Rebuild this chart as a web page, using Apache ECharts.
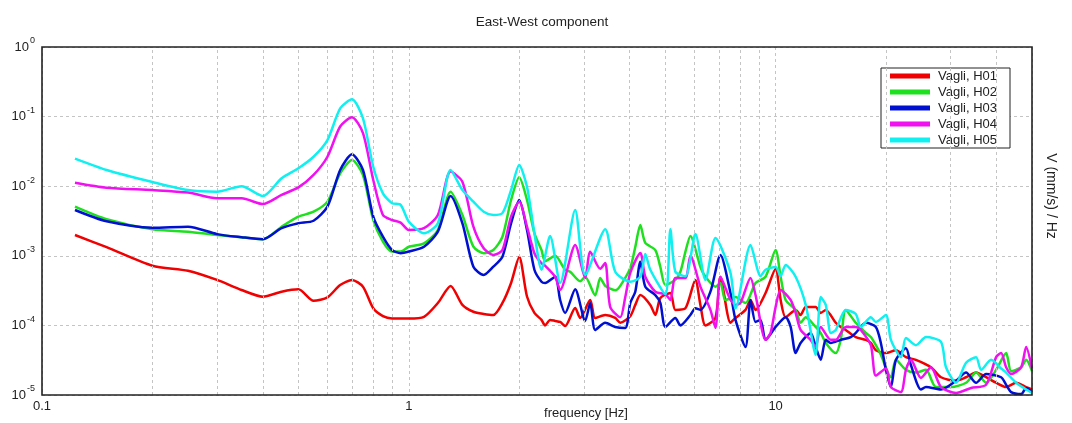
<!DOCTYPE html>
<html lang="en">
<head>
<meta charset="UTF-8">
<title>East-West component</title>
<script src="https://cdn.jsdelivr.net/npm/echarts@6/dist/echarts.min.js"></script>
</head>
<body style="margin:0;background:#fff">
<div id="main" style="width:1072px;height:423px"></div>
<script>
// frequencies (Hz) of the smooth low-frequency part, shared by every station
var lowFreq = [0.123, 0.15, 0.2, 0.25, 0.3, 0.35, 0.4, 0.45, 0.5, 0.55, 0.6, 0.65, 0.7, 0.75, 0.8, 0.85,
    0.9, 0.95, 1.0, 1.1, 1.2, 1.3, 1.4, 1.5, 1.6, 1.7, 1.8, 1.9, 2.0, 2.1, 2.2, 2.3];

// V (mm/s)/Hz
var h01Low = [1.99e-3, 1.33e-3, 7.2e-4, 6.1e-4, 4.5e-4, 3.23e-4, 2.59e-4, 3.05e-4, 3.3e-4, 2.26e-4, 2.53e-4, 3.81e-4,
    4.5e-4, 3.6e-4, 1.76e-4, 1.36e-4, 1.26e-4, 1.26e-4, 1.26e-4, 1.33e-4, 2.1e-4, 3.69e-4, 1.97e-4, 1.57e-4,
    1.46e-4, 1.41e-4, 2.1e-4, 4.07e-4, 9.6e-4, 2.6e-4, 1.51e-4, 1.2e-4];
var h01High = [[2.353, 1.0e-4], [2.428, 1.2e-4], [2.506, 1.16e-4], [2.586, 1.12e-4], [2.668, 9.8e-5], [2.842, 1.78e-4],
    [2.932, 1.28e-4], [3.123, 2.32e-4], [3.222, 1.28e-4], [3.432, 1.41e-4], [3.654, 1.28e-4], [3.771, 1.09e-4],
    [4.016, 1.36e-4], [4.144, 1.97e-4], [4.277, 2.73e-4], [4.554, 1.97e-4], [4.7, 1.41e-4], [4.85, 2.48e-4],
    [5.165, 2.92e-4], [5.33, 1.67e-4], [5.676, 1.76e-4], [6.044, 4.5e-4], [6.237, 1.97e-4], [6.437, 1.0e-4],
    [6.855, 1.28e-4], [7.074, 4.96e-4], [7.533, 1.09e-4], [7.774, 1.28e-4], [8.278, 1.67e-4], [8.543, 2.32e-4],
    [8.816, 1.67e-4], [9.388, 2.92e-4], [10.0, 6.5e-4], [10.32, 2.32e-4], [10.65, 1.31e-4], [11.34, 1.67e-4],
    [11.7, 1.41e-4], [12.08, 1.84e-4], [12.86, 1.84e-4], [13.27, 1.51e-4], [13.7, 1.67e-4], [14.59, 1.09e-4],
    [15.05, 9.5e-5], [15.53, 8.6e-5], [16.54, 6.8e-5], [17.62, 6.2e-5], [18.18, 5.6e-5], [18.76, 4.4e-5],
    [19.98, 4.0e-5], [21.28, 4.4e-5], [22.66, 3.5e-5], [24.13, 3.2e-5], [26.52, 2.5e-5], [28.24, 1.8e-5],
    [31.04, 1.6e-5], [33.05, 1.8e-5], [35.2, 2.1e-5], [37.48, 1.8e-5], [39.92, 1.5e-5], [42.51, 1.3e-5],
    [45.27, 1.5e-5], [48.21, 1.3e-5], [50, 1.2e-5]];

var h02Low = [5.08e-3, 3.35e-3, 2.4e-3, 2.22e-3, 1.99e-3, 1.85e-3, 1.73e-3, 2.62e-3, 3.65e-3, 4.3e-3, 6.0e-3, 1.53e-2,
    2.38e-2, 1.45e-2, 3.27e-3, 1.6e-3, 1.15e-3, 1.15e-3, 1.35e-3, 1.51e-3, 2.35e-3, 8.34e-3, 3.86e-3, 1.35e-3,
    1.09e-3, 1.21e-3, 1.88e-3, 6.33e-3, 1.34e-2, 6.33e-3, 2.11e-3, 1.21e-3];
var h02High = [[2.353, 8.4e-4], [2.506, 1.0e-3], [2.668, 6.3e-4], [2.754, 5.9e-4], [2.932, 4.3e-4], [3.026, 5.0e-4],
    [3.222, 2.7e-4], [3.325, 4.8e-4], [3.432, 3.7e-4], [3.654, 3.2e-4], [3.771, 3.7e-4], [4.016, 6.7e-4],
    [4.144, 1.34e-3], [4.277, 2.77e-3], [4.413, 1.53e-3], [4.7, 1.21e-3], [4.85, 6.9e-4], [5.005, 3.8e-4],
    [5.33, 4.5e-4], [5.5, 5.9e-4], [5.676, 1.14e-3], [5.857, 1.93e-3], [6.237, 6.9e-4], [6.437, 5.0e-4],
    [6.855, 3.6e-4], [7.074, 4.07e-4], [7.3, 2.32e-4], [7.774, 2.56e-4], [8.278, 2.1e-4], [8.816, 4.07e-4],
    [9.388, 5.0e-4], [10.0, 1.21e-3], [10.32, 5.0e-4], [10.65, 2.32e-4], [11.34, 1.67e-4], [11.7, 1.09e-4],
    [12.08, 1.31e-4], [12.86, 9.5e-5], [13.27, 7.8e-5], [13.7, 5.6e-5], [14.59, 4.0e-5], [15.05, 6.2e-5],
    [15.53, 1.67e-4], [16.54, 1.09e-4], [17.62, 7.8e-5], [18.18, 6.8e-5], [18.76, 5.2e-5], [19.36, 3.8e-5],
    [20.62, 1.8e-5], [21.28, 3.2e-5], [22.66, 2.3e-5], [24.13, 2.1e-5], [25.7, 2.3e-5], [27.37, 1.3e-5],
    [30.07, 1.3e-5], [33.05, 1.5e-5], [35.2, 2.1e-5], [37.48, 1.5e-5], [39.92, 2.3e-5], [42.51, 4.0e-5],
    [43.87, 2.2e-5], [46.71, 2.5e-5], [48.21, 3.2e-5], [50, 2.2e-5]];

var h03Low = [4.55e-3, 3.13e-3, 2.53e-3, 2.62e-3, 2.05e-3, 1.85e-3, 1.73e-3, 2.49e-3, 2.93e-3, 3.19e-3, 5.08e-3, 1.71e-2,
    2.87e-2, 1.71e-2, 3.65e-3, 1.88e-3, 1.21e-3, 1.09e-3, 1.15e-3, 1.35e-3, 2.22e-3, 7.23e-3, 2.93e-3, 6.97e-4,
    5.3e-4, 6.97e-4, 9.7e-4, 2.93e-3, 6.33e-3, 2.35e-3, 6.3e-4, 4.25e-4];
var h03High = [[2.353, 4.07e-4], [2.506, 5.0e-4], [2.586, 2.32e-4], [2.668, 1.51e-4], [2.842, 3.3e-4], [3.026, 1.16e-4],
    [3.123, 2.1e-4], [3.222, 8.6e-5], [3.432, 1.09e-4], [3.654, 9.5e-5], [3.892, 9.2e-5], [4.016, 2.1e-4],
    [4.144, 3.05e-4], [4.277, 8.2e-4], [4.413, 3.6e-4], [4.7, 2.73e-4], [4.85, 2.1e-4], [5.005, 9.5e-5],
    [5.33, 1.28e-4], [5.5, 1.0e-4], [5.857, 1.41e-4], [6.044, 1.76e-4], [6.237, 1.67e-4], [6.642, 3.05e-4],
    [7.074, 1.03e-3], [7.533, 2.92e-4], [7.774, 1.2e-4], [8.278, 4.9e-5], [8.543, 2.32e-4], [8.816, 1.12e-4],
    [9.098, 1.2e-4], [9.388, 6.2e-5], [10.0, 9.5e-5], [10.65, 1.31e-4], [10.99, 9.5e-5], [11.34, 4.0e-5],
    [11.7, 5.6e-5], [12.46, 7.8e-5], [12.86, 4.9e-5], [13.27, 3.2e-5], [13.7, 6.2e-5], [14.14, 5.6e-5],
    [15.05, 6.2e-5], [16.03, 6.8e-5], [16.54, 7.8e-5], [17.62, 1.09e-4], [18.76, 9.5e-5], [19.36, 5.6e-5],
    [19.98, 2.3e-5], [20.62, 1.3e-5], [21.28, 3.2e-5], [22.66, 4.7e-5], [23.38, 2.7e-5], [24.9, 1.2e-5],
    [25.7, 1.3e-5], [28.24, 1.2e-5], [31.04, 1.6e-5], [33.05, 2.1e-5], [35.2, 1.5e-5], [37.48, 2.0e-5],
    [41.19, 1.8e-5], [42.51, 1.4e-5], [43.87, 1.1e-5], [46.71, 1.03e-5], [48.21, 1.26e-5], [50, 1.1e-5]];

var h04Low = [1.12e-2, 9.5e-3, 8.8e-3, 8.1e-3, 6.7e-3, 6.7e-3, 5.55e-3, 7.5e-3, 9.6e-3, 1.45e-2, 2.65e-2, 7.2e-2,
    9.8e-2, 5.8e-2, 1.23e-2, 3.86e-3, 3.27e-3, 3.0e-3, 2.35e-3, 2.49e-3, 3.86e-3, 1.62e-2, 1.16e-2, 2.62e-3,
    1.28e-3, 1.03e-3, 1.21e-3, 3.65e-3, 6.0e-3, 2.62e-3, 1.09e-3, 7.8e-4];
var h04High = [[2.353, 7.2e-4], [2.506, 5.0e-4], [2.586, 3.23e-4], [2.842, 1.43e-3], [3.026, 4.8e-4], [3.123, 1.14e-3],
    [3.325, 6.5e-4], [3.432, 7.9e-4], [3.541, 1.84e-4], [3.771, 1.31e-4], [3.892, 2.56e-4], [4.016, 5.7e-4],
    [4.277, 1.1e-3], [4.413, 5.0e-4], [4.7, 3.05e-4], [5.005, 2.8e-4], [5.165, 2.32e-4], [5.33, 4.8e-4],
    [5.676, 4.8e-4], [5.857, 1.0e-3], [6.237, 3.6e-4], [6.642, 1.67e-4], [6.855, 9.2e-5], [7.074, 5.0e-4],
    [7.533, 2.32e-4], [7.774, 1.97e-4], [8.022, 2.1e-4], [8.543, 4.8e-4], [8.816, 2.73e-4], [9.388, 6.2e-5],
    [9.688, 7.8e-5], [10.0, 1.84e-4], [10.32, 3.23e-4], [10.99, 2.32e-4], [11.34, 1.51e-4], [11.7, 8.6e-5],
    [12.46, 6.2e-5], [12.86, 4.9e-5], [13.27, 9.5e-5], [14.14, 6.2e-5], [14.59, 6.2e-5], [15.53, 9.5e-5],
    [16.54, 9.5e-5], [17.07, 8.6e-5], [18.18, 5.2e-5], [18.76, 1.9e-5], [19.98, 2.4e-5], [20.62, 1.3e-5],
    [21.96, 1.1e-5], [22.66, 2.3e-5], [23.38, 3.2e-5], [24.9, 1.76e-5], [26.52, 2.5e-5], [28.24, 1.3e-5],
    [31.04, 1.07e-5], [34.11, 1.26e-5], [37.48, 1.4e-5], [39.92, 3.5e-5], [41.19, 4.0e-5], [42.51, 2.5e-5],
    [43.87, 2.0e-5], [46.71, 2.5e-5], [48.21, 4.9e-5], [50, 2.4e-5]];

var h05Low = [2.49e-2, 1.71e-2, 1.15e-2, 8.8e-3, 8.34e-3, 1.0e-2, 7.23e-3, 1.3e-2, 1.81e-2, 2.65e-2, 4.6e-2, 1.31e-1,
    1.77e-1, 9.45e-2, 1.9e-2, 7.9e-3, 5.7e-3, 5.4e-3, 3.1e-3, 2.11e-3, 2.93e-3, 1.71e-2, 8.8e-3, 6.0e-3,
    4.3e-3, 3.86e-3, 4.1e-3, 8.8e-3, 2.02e-2, 9.8e-3, 2.11e-3, 6.3e-4];
var h05High = [[2.428, 1.93e-3], [2.586, 4.07e-4], [2.842, 4.55e-3], [3.026, 5.3e-4], [3.432, 2.41e-3], [3.654, 5.9e-4],
    [4.016, 4.25e-4], [4.277, 5.0e-4], [4.413, 1.06e-3], [4.554, 6.3e-4], [5.005, 2.8e-4], [5.165, 2.41e-3],
    [5.33, 5.9e-4], [5.676, 5.1e-4], [6.044, 2.05e-3], [6.437, 4.5e-4], [6.855, 1.8e-3], [7.533, 5.7e-4],
    [7.774, 1.76e-4], [8.543, 1.43e-3], [9.098, 5.1e-4], [9.388, 6.3e-4], [10.0, 6.9e-4], [10.32, 5.1e-4],
    [10.65, 7.4e-4], [11.34, 5.0e-4], [12.08, 1.97e-4], [12.86, 3.8e-5], [13.27, 2.56e-4], [13.7, 1.97e-4],
    [14.14, 7.8e-5], [14.59, 8.6e-5], [15.53, 1.67e-4], [16.54, 1.46e-4], [17.07, 9.5e-5], [18.18, 1.31e-4],
    [18.76, 1.12e-4], [19.98, 1.41e-4], [20.62, 6.2e-5], [21.96, 3.5e-5], [22.66, 6.6e-5], [24.13, 5.2e-5],
    [25.7, 6.8e-5], [28.24, 5.8e-5], [29.14, 2.5e-5], [31.04, 1.5e-5], [33.05, 2.9e-5], [35.2, 3.5e-5],
    [36.32, 2.3e-5], [38.68, 3.2e-5], [41.19, 2.4e-5], [42.51, 2.1e-5], [45.27, 1.5e-5], [48.21, 1.2e-5],
    [50, 1.07e-5]];

var stationNames = ['Vagli, H01', 'Vagli, H02', 'Vagli, H03', 'Vagli, H04', 'Vagli, H05'];
var stationColors = ['#f00000', '#1ee01e', '#0010d0', '#f010f0', '#10f0f0'];

// tick labels
var xTickValues = [0.1, 1, 10];
var xTickText = ['0.1', '1', '10'];
var yTickExp = ['0', '-1', '-2', '-3', '-4', '-5'];
// vertical dashed grid between the decades
var minorFreq = [0.2, 0.3, 0.4, 0.5, 0.6, 0.7, 0.8, 0.9, 2, 3, 4, 5, 6, 7, 8, 9, 20, 30, 40];

var FONT = '"Liberation Sans", Arial, sans-serif';
var G = {left: 42, top: 47, right: 1032, bottom: 395};

function pairs(low, high) {
    return lowFreq.map(function (f, i) { return [f, low[i]]; }).concat(high);
}
var seriesData = [pairs(h01Low, h01High), pairs(h02Low, h02High), pairs(h03Low, h03High),
    pairs(h04Low, h04High), pairs(h05Low, h05High)];

var gridLine = {type: [3, 3], color: '#c4c4c4', width: 1};

var series = [{
    type: 'line',
    data: [],
    z: 1,
    silent: true,
    markLine: {
        silent: true,
        animation: false,
        symbol: ['none', 'none'],
        label: {show: false},
        lineStyle: gridLine,
        data: minorFreq.map(function (f) { return {xAxis: f}; })
    }
}];
seriesData.forEach(function (d, i) {
    series.push({
        name: stationNames[i],
        type: 'line',
        data: d,
        z: 2 + i,
        showSymbol: false,
        symbol: 'none',
        smooth: 0.25,
        color: stationColors[i],
        lineStyle: {width: 2.5, color: stationColors[i]}
    });
});

var chart = echarts.init(document.getElementById('main'));
chart.setOption({
    animation: false,
    backgroundColor: '#fff',
    title: {
        text: 'East-West component',
        left: (G.left + G.right) / 2,
        textAlign: 'center',
        top: 10,
        textStyle: {fontFamily: FONT, fontSize: 13.5, fontWeight: 'normal', color: '#222'}
    },
    legend: {
        data: stationNames,
        orient: 'vertical',
        left: 881,
        top: 68,
        icon: 'rect',
        itemWidth: 40,
        itemHeight: 5,
        itemGap: 0,
        padding: [0, 13, 0, 9],
        backgroundColor: '#fff',
        borderColor: '#222',
        borderWidth: 1,
        textStyle: {fontFamily: FONT, fontSize: 13, color: '#222', lineHeight: 16, padding: [0, 0, 0, 3]}
    },
    grid: {
        left: G.left, top: G.top, right: 1072 - G.right, bottom: 423 - G.bottom,
        outerBoundsMode: 'none'
    },
    xAxis: {
        type: 'log',
        logBase: 10,
        min: 0.1,
        max: 50,
        name: 'frequency [Hz]',
        nameLocation: 'middle',
        nameGap: 12,
        nameMoveOverlap: false,
        nameTextStyle: {fontFamily: FONT, fontSize: 13, color: '#222', padding: [0, 0, 0, 98]},
        axisLine: {show: false},
        axisTick: {show: false},
        axisLabel: {
            margin: 5,
            fontFamily: FONT, fontSize: 13, color: '#222',
            formatter: function (v) {
                if (Math.abs(Math.log10(v) - Math.round(Math.log10(v))) > 1e-6) return '';
                var i = xTickValues.indexOf(Math.pow(10, Math.round(Math.log10(v))));
                return i >= 0 ? xTickText[i] : '';
            }
        },
        splitLine: {show: true, lineStyle: gridLine}
    },
    yAxis: {
        type: 'log',
        logBase: 10,
        min: 1e-5,
        max: 1,
        axisLine: {show: false},
        axisTick: {show: false},
        axisLabel: {
            margin: 7,
            fontFamily: FONT,
            formatter: function (v) {
                var e = Math.round(Math.log10(v));
                return '{b|10}{s|' + yTickExp[-e] + '}';
            },
            rich: {
                b: {fontFamily: FONT, fontSize: 13, color: '#222'},
                s: {fontFamily: FONT, fontSize: 9, color: '#222', padding: [0, 0, 12, 1]}
            }
        },
        splitLine: {show: true, lineStyle: gridLine}
    },
    graphic: [{
        type: 'rect',
        z: 100,
        silent: true,
        shape: {x: G.left, y: G.top, width: G.right - G.left, height: G.bottom - G.top},
        style: {fill: 'none', stroke: '#222', lineWidth: 1.6}
    }, {
        type: 'text',
        z: 100,
        x: 1051,
        y: 196,
        rotation: -Math.PI / 2,
        style: {
            text: 'V (mm/s) / Hz',
            fontFamily: FONT,
            fontSize: 14,
            fill: '#222',
            textAlign: 'center',
            textVerticalAlign: 'middle'
        }
    }],
    series: series
});
</script>
</body>
</html>
